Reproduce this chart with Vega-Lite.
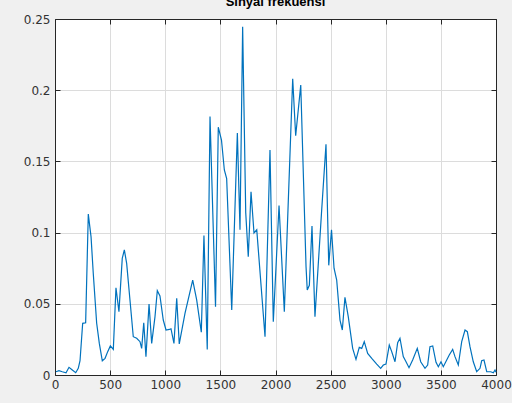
{
  "$schema": "https://vega.github.io/schema/vega-lite/v6.json",
  "width": 441,
  "height": 356,
  "autosize": {"type": "none"},
  "padding": {"left": 55, "top": 19, "right": 16, "bottom": 28},
  "background": "#f0f0f0",
  "title": {"text": "Sinyal frekuensi", "fontSize": 13, "fontWeight": "bold", "font": "Liberation Sans", "color": "#000000", "offset": 4, "baseline": "bottom", "dy": 13},
  "config": {
    "view": {"fill": "white", "stroke": "#262626", "strokeWidth": 1},
    "axis": {"labelFont": "DejaVu Sans", "labelFontSize": 12, "labelColor": "#333333", "domainColor": "#262626", "tickColor": "#262626", "gridColor": "#dcdcdc", "gridOpacity": 1, "title": null, "labelFlush": false, "labelOverlap": false}
  },
  "data": {"values": [
    {"f": 9, "a": 0.0023}, {"f": 36, "a": 0.003}, {"f": 66, "a": 0.0023}, {"f": 100, "a": 0.0016},
    {"f": 127, "a": 0.0054}, {"f": 157, "a": 0.0035}, {"f": 188, "a": 0.0016}, {"f": 211, "a": 0.0047},
    {"f": 227, "a": 0.010}, {"f": 251, "a": 0.0363}, {"f": 278, "a": 0.0367}, {"f": 302, "a": 0.113},
    {"f": 327, "a": 0.097}, {"f": 347, "a": 0.0714}, {"f": 378, "a": 0.0363}, {"f": 402, "a": 0.0222},
    {"f": 429, "a": 0.010}, {"f": 454, "a": 0.0117}, {"f": 478, "a": 0.0164}, {"f": 502, "a": 0.0204},
    {"f": 529, "a": 0.018}, {"f": 553, "a": 0.0613}, {"f": 580, "a": 0.0445}, {"f": 610, "a": 0.0819},
    {"f": 629, "a": 0.0878}, {"f": 650, "a": 0.0784}, {"f": 680, "a": 0.0527}, {"f": 710, "a": 0.0269},
    {"f": 741, "a": 0.0258}, {"f": 771, "a": 0.0234}, {"f": 786, "a": 0.0187}, {"f": 805, "a": 0.0367},
    {"f": 825, "a": 0.0129}, {"f": 853, "a": 0.0499}, {"f": 877, "a": 0.0222}, {"f": 907, "a": 0.041},
    {"f": 928, "a": 0.0592}, {"f": 952, "a": 0.0555}, {"f": 982, "a": 0.0386}, {"f": 1007, "a": 0.0316},
    {"f": 1037, "a": 0.032}, {"f": 1052, "a": 0.0325}, {"f": 1079, "a": 0.0222}, {"f": 1104, "a": 0.0538},
    {"f": 1127, "a": 0.0218}, {"f": 1179, "a": 0.0433}, {"f": 1249, "a": 0.0667}, {"f": 1285, "a": 0.0527},
    {"f": 1327, "a": 0.030}, {"f": 1351, "a": 0.098}, {"f": 1381, "a": 0.018}, {"f": 1406, "a": 0.1815},
    {"f": 1456, "a": 0.048}, {"f": 1481, "a": 0.174}, {"f": 1510, "a": 0.165}, {"f": 1536, "a": 0.144},
    {"f": 1557, "a": 0.138}, {"f": 1603, "a": 0.0456}, {"f": 1654, "a": 0.170}, {"f": 1678, "a": 0.102},
    {"f": 1702, "a": 0.2445}, {"f": 1730, "a": 0.114}, {"f": 1753, "a": 0.083}, {"f": 1778, "a": 0.1287},
    {"f": 1805, "a": 0.0997}, {"f": 1830, "a": 0.102}, {"f": 1905, "a": 0.0269}, {"f": 1950, "a": 0.158},
    {"f": 1980, "a": 0.0374}, {"f": 2032, "a": 0.119}, {"f": 2080, "a": 0.0445}, {"f": 2156, "a": 0.208},
    {"f": 2183, "a": 0.168}, {"f": 2229, "a": 0.2036}, {"f": 2277, "a": 0.076}, {"f": 2288, "a": 0.0597},
    {"f": 2307, "a": 0.063}, {"f": 2331, "a": 0.1046}, {"f": 2358, "a": 0.041}, {"f": 2417, "a": 0.1135},
    {"f": 2458, "a": 0.162}, {"f": 2483, "a": 0.077}, {"f": 2508, "a": 0.102}, {"f": 2531, "a": 0.075},
    {"f": 2555, "a": 0.0667}, {"f": 2585, "a": 0.0386}, {"f": 2606, "a": 0.0316}, {"f": 2630, "a": 0.0545},
    {"f": 2660, "a": 0.041}, {"f": 2700, "a": 0.0187}, {"f": 2730, "a": 0.011}, {"f": 2760, "a": 0.0194},
    {"f": 2782, "a": 0.0187}, {"f": 2805, "a": 0.0234}, {"f": 2836, "a": 0.0152}, {"f": 2873, "a": 0.0117},
    {"f": 2918, "a": 0.0077}, {"f": 2954, "a": 0.0047}, {"f": 2978, "a": 0.007}, {"f": 3002, "a": 0.0077},
    {"f": 3032, "a": 0.021}, {"f": 3054, "a": 0.0164}, {"f": 3084, "a": 0.0093}, {"f": 3108, "a": 0.0227},
    {"f": 3129, "a": 0.0258}, {"f": 3159, "a": 0.0129}, {"f": 3184, "a": 0.0093}, {"f": 3211, "a": 0.0051},
    {"f": 3244, "a": 0.0105}, {"f": 3286, "a": 0.0187}, {"f": 3317, "a": 0.0093}, {"f": 3356, "a": 0.0047},
    {"f": 3380, "a": 0.007}, {"f": 3401, "a": 0.0199}, {"f": 3426, "a": 0.0204}, {"f": 3456, "a": 0.0089},
    {"f": 3477, "a": 0.0058}, {"f": 3501, "a": 0.0093}, {"f": 3522, "a": 0.0058}, {"f": 3553, "a": 0.0105},
    {"f": 3576, "a": 0.014}, {"f": 3607, "a": 0.018}, {"f": 3628, "a": 0.0129}, {"f": 3658, "a": 0.007},
    {"f": 3689, "a": 0.0234}, {"f": 3719, "a": 0.0316}, {"f": 3740, "a": 0.0304}, {"f": 3764, "a": 0.0199},
    {"f": 3794, "a": 0.0093}, {"f": 3825, "a": 0.0023}, {"f": 3855, "a": 0.0047}, {"f": 3870, "a": 0.010},
    {"f": 3891, "a": 0.0105}, {"f": 3916, "a": 0.0023}, {"f": 3952, "a": 0.0023}, {"f": 3976, "a": 0.0016},
    {"f": 3991, "a": 0.0035}, {"f": 4000, "a": 0.002}
  ]},
  "layer": [
    {
      "mark": {"type": "line", "color": "#0072BD", "strokeWidth": 1.2},
      "encoding": {
        "x": {"field": "f", "type": "quantitative", "scale": {"domain": [0, 4000], "nice": false, "zero": false},
              "axis": {"orient": "bottom", "values": [0, 500, 1000, 1500, 2000, 2500, 3000, 3500, 4000], "tickSize": -5, "labelPadding": 9, "grid": true, "format": "d"}},
        "y": {"field": "a", "type": "quantitative", "scale": {"domain": [0, 0.25], "nice": false},
              "axis": {"orient": "left", "values": [0, 0.05, 0.1, 0.15, 0.2, 0.25], "tickSize": -5, "labelPadding": 10, "grid": true, "format": "~g"}}
      }
    },
    {
      "mark": {"type": "line", "opacity": 0},
      "encoding": {
        "x": {"field": "f", "type": "quantitative", "axis": {"orient": "top", "values": [0, 500, 1000, 1500, 2000, 2500, 3000, 3500, 4000], "tickSize": -5, "labels": false, "grid": false}},
        "y": {"field": "a", "type": "quantitative", "axis": {"orient": "right", "values": [0, 0.05, 0.1, 0.15, 0.2, 0.25], "tickSize": -5, "labels": false, "grid": false}}
      }
    }
  ],
  "resolve": {"axis": {"x": "independent", "y": "independent"}}
}
